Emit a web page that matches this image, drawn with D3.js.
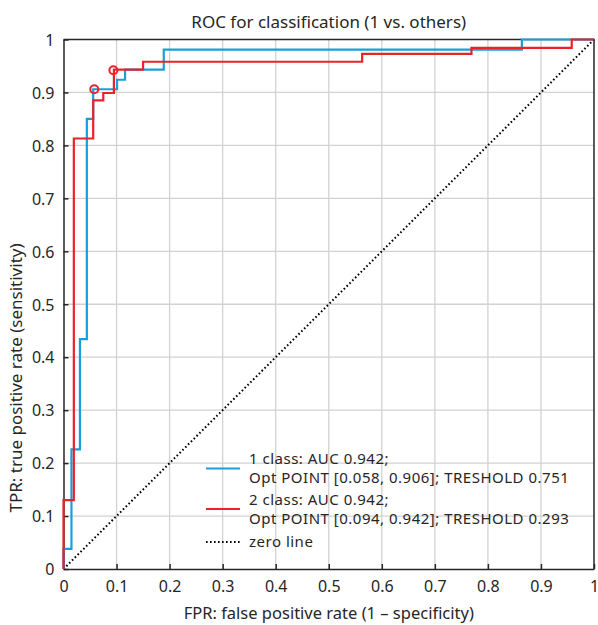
<!DOCTYPE html>
<html>
<head>
<meta charset="utf-8">
<script src="https://cdn.jsdelivr.net/npm/d3@7"></script>
<style>
  body { margin: 0; background: #fff; }
  text { font-family: "Noto Sans", "Open Sans", sans-serif; fill: #262626; }
</style>
</head>
<body>
<script>
// ROC staircase corners (fpr, tpr) for each class
const fpr1 = [0, 0, 0.015, 0.031, 0.044, 0.056, 0.101, 0.116, 0.189, 0.864, 1]
const tpr1 = [0, 0.038, 0.226, 0.434, 0.850, 0.906, 0.924, 0.943, 0.981, 1, 1]
const fpr2 = [0, 0, 0.0195, 0.056, 0.075, 0.095, 0.150, 0.563, 0.769, 0.958, 1]
const tpr2 = [0, 0.130, 0.813, 0.885, 0.899, 0.943, 0.958, 0.973, 0.984, 1, 1]
const optX = [0.058, 0.094]
const optY = [0.906, 0.942]
const ticks = [0, 0.1, 0.2, 0.3, 0.4, 0.5, 0.6, 0.7, 0.8, 0.9, 1]
const legendLabels = [
    ["1 class: AUC 0.942;", "Opt POINT [0.058, 0.906]; TRESHOLD 0.751"],
    ["2 class: AUC 0.942;", "Opt POINT [0.094, 0.942]; TRESHOLD 0.293"],
    ["zero line"]
]

const blue = "#1a9edb", red = "#ec2229"

const width = 598, height = 625
const x = d3.scaleLinear().domain([0, 1]).range([63.5, 594])
const y = d3.scaleLinear().domain([0, 1]).range([569, 39.5])

const svg = d3.select("body").append("svg")
    .attr("width", width)
    .attr("height", height)

// grid
svg.append("g").selectAll("line")
    .data(ticks.slice(1, -1))
    .enter().append("line")
    .attr("x1", d => x(d)).attr("x2", d => x(d))
    .attr("y1", y(0)).attr("y2", y(1))
    .attr("stroke", "#d2d2d2").attr("stroke-width", 1.3)
svg.append("g").selectAll("line")
    .data(ticks.slice(1, -1))
    .enter().append("line")
    .attr("y1", d => y(d)).attr("y2", d => y(d))
    .attr("x1", x(0)).attr("x2", x(1))
    .attr("stroke", "#d2d2d2").attr("stroke-width", 1.3)

// axes, ticks pointing inward
const fmt = d => String(+d.toFixed(1))
const xAxis = svg.append("g")
    .attr("transform", `translate(0,${y(0)})`)
    .call(d3.axisBottom(x).tickValues(ticks).tickSizeInner(-5).tickSizeOuter(0).tickPadding(12).tickFormat(fmt))
const yAxis = svg.append("g")
    .attr("transform", `translate(${x(0)},0)`)
    .call(d3.axisLeft(y).tickValues(ticks).tickSizeInner(-5).tickSizeOuter(0).tickPadding(9).tickFormat(fmt))
for (let a of [xAxis, yAxis]) {
    a.select(".domain").attr("stroke", "#262626").attr("stroke-width", 1.5)
    a.selectAll(".tick line").attr("stroke", "#262626").attr("stroke-width", 1.5)
    a.selectAll(".tick text").style("font-size", "16px").attr("fill", "#333")
}
yAxis.selectAll(".tick text").attr("dy", "0.36em")

// top and right border
svg.append("path")
    .attr("d", `M${x(0)},${y(1)}H${x(1)}V${y(0)}`)
    .attr("fill", "none").attr("stroke", "#262626").attr("stroke-width", 1.5)

// zero line
svg.append("line")
    .attr("x1", x(0)).attr("y1", y(0)).attr("x2", x(1)).attr("y2", y(1))
    .attr("stroke", "#000").attr("stroke-width", 2).attr("stroke-dasharray", "1.6,2.4")

const line = d3.line()
    .x(d => x(d[0]))
    .y(d => y(d[1]))
    .curve(d3.curveStepAfter)

svg.append("path")
    .datum(d3.zip(fpr1, tpr1))
    .attr("d", line)
    .attr("fill", "none").attr("stroke", blue).attr("stroke-width", 2.2)

svg.append("path")
    .datum(d3.zip(fpr2, tpr2))
    .attr("d", line)
    .attr("fill", "none").attr("stroke", red).attr("stroke-width", 2.2)

// optimal operating points
svg.append("g").selectAll("circle")
    .data(d3.zip(optX, optY))
    .enter().append("circle")
    .attr("cx", d => x(d[0])).attr("cy", d => y(d[1]))
    .attr("r", 4)
    .attr("fill", "none").attr("stroke", red).attr("stroke-width", 2)

// legend
const legendY = [468.5, 509, 542]
const legendStroke = [blue, red, "#000"]
const legend = svg.append("g")
legendLabels.forEach((lab, i) => {
    legend.append("line")
        .attr("x1", 206).attr("x2", 240)
        .attr("y1", legendY[i]).attr("y2", legendY[i])
        .attr("stroke", legendStroke[i]).attr("stroke-width", 2)
        .attr("stroke-dasharray", i === 2 ? "1.6,2.4" : null)
    let t = legend.append("text")
        .attr("x", 249)
        .attr("y", legendY[i] - (lab.length - 1) * 9.5)
        .style("font-size", "15px")
        .style("letter-spacing", "0.5px")
        .attr("fill", "#333")
    lab.forEach((s, j) => {
        t.append("tspan").attr("x", 249).attr("dy", j === 0 ? "0.35em" : "19px").text(s)
    })
})

// titles
svg.append("text")
    .attr("x", (x(0) + x(1)) / 2).attr("y", 28)
    .attr("text-anchor", "middle")
    .style("font-size", "17px")
    .text("ROC for classification (1 vs. others)")

svg.append("text")
    .attr("x", (x(0) + x(1)) / 2).attr("y", 619)
    .attr("text-anchor", "middle")
    .style("font-size", "16.5px")
    .text("FPR: false positive rate (1 \u2013 specificity)")

svg.append("text")
    .attr("transform", "translate(22,378) rotate(-90)")
    .attr("text-anchor", "middle")
    .style("font-size", "17px")
    .text("TPR: true positive rate (sensitivity)")
</script>
</body>
</html>
